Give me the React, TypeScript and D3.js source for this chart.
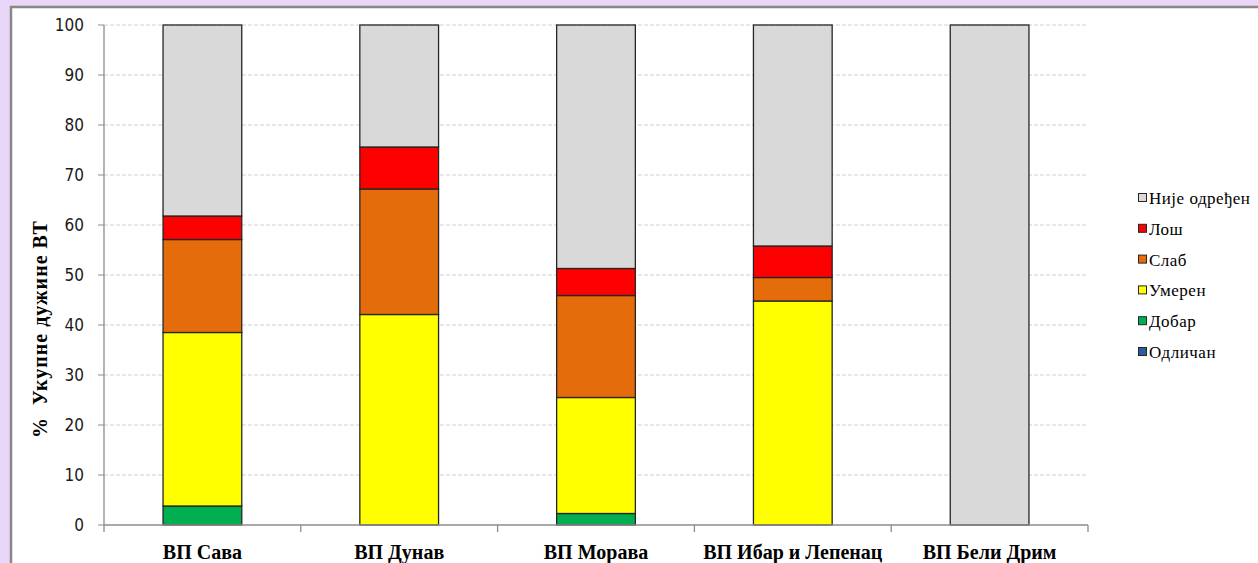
import React from "react";
import * as d3 from "d3";

const categories = ["ВП Сава", "ВП Дунав", "ВП Морава", "ВП Ибар и Лепенац", "ВП Бели Дрим"];
const seriesNames = ["Одличан", "Добар", "Умерен", "Слаб", "Лош", "Није одређен"];
const odlican = [0, 0, 0, 0, 0];
const dobar = [3.8, 0, 2.3, 0, 0];
const umeren = [34.7, 42.1, 23.2, 44.8, 0];
const slab = [18.6, 25.1, 20.4, 4.7, 0];
const los = [4.7, 8.4, 5.4, 6.3, 0];
const nije = [38.2, 24.4, 48.7, 44.2, 100];
const seriesColors = ["#2a5d9a", "#00b050", "#ffff00", "#e46c0a", "#ff0000", "#d9d9d9"];
const yTicks = [0, 10, 20, 30, 40, 50, 60, 70, 80, 90, 100];
const legendOrder = ["Није одређен", "Лош", "Слаб", "Умерен", "Добар", "Одличан"];

const W = 1258;
const H = 563;
const M = { left: 104, right: 1088, top: 25, bottom: 525 };

export default function App() {
  const values = [odlican, dobar, umeren, slab, los, nije];
  const rows = categories.map((c, i) => {
    const r: any = { cat: c };
    seriesNames.forEach((s, k) => (r[s] = values[k][i]));
    return r;
  });
  const stacked = d3.stack().keys(seriesNames)(rows);
  const x = d3.scaleBand().domain(categories).range([M.left, M.right]).paddingInner(0).paddingOuter(0);
  const y = d3.scaleLinear().domain([0, 100]).range([M.bottom, M.top]);
  const bw = x.bandwidth() * 0.4;
  const tickFont = "'DejaVu Sans Condensed', 'DejaVu Sans', sans-serif";
  const serif = "'Liberation Serif', 'Times New Roman', serif";
  const boundaries = categories.map((c) => x(c) as number).concat([M.right]);

  return (
    <svg width={W} height={H} style={{ position: "absolute", left: 0, top: 0 }}>
      <rect x={0} y={0} width={W} height={H} fill="#ead6f8" />
      <rect x={11} y={7} width={W + 20} height={H + 20} fill="#ffffff" stroke="#888888" strokeWidth={2.5} />
      {yTicks.map((t) => (
        <g key={t}>
          {t > 0 && (
            <line x1={M.left} x2={M.right} y1={y(t)} y2={y(t)} stroke="#d0d0d0" strokeWidth={1} strokeDasharray="4,2" />
          )}
          <line x1={M.left - 6} x2={M.left} y1={y(t)} y2={y(t)} stroke="#8c8c8c" strokeWidth={1} />
          <text x={M.left - 20} y={y(t)} dy="0.36em" textAnchor="end" fontFamily={tickFont} fontSize={17} fill="#1a1a1a">
            {t}
          </text>
        </g>
      ))}
      {stacked.map((s, k) => (
        <g key={s.key}>
          {s.map((d, i) => {
            const h = y(d[0]) - y(d[1]);
            if (h <= 0.01) return null;
            const cx = (x(categories[i]) as number) + x.bandwidth() / 2;
            return (
              <rect
                key={i}
                x={cx - bw / 2}
                y={y(d[1])}
                width={bw}
                height={h}
                fill={seriesColors[k]}
                stroke="#262626"
                strokeWidth={1.3}
              />
            );
          })}
        </g>
      ))}
      <line x1={M.left} x2={M.left} y1={M.top} y2={M.bottom} stroke="#8c8c8c" strokeWidth={1.3} />
      <line x1={M.left} x2={M.right} y1={M.bottom} y2={M.bottom} stroke="#8c8c8c" strokeWidth={1.3} />
      {boundaries.map((b, i) => (
        <line key={i} x1={b} x2={b} y1={M.bottom} y2={M.bottom + 7} stroke="#8c8c8c" strokeWidth={1.3} />
      ))}
      {categories.map((c) => (
        <text
          key={c}
          x={(x(c) as number) + x.bandwidth() / 2}
          y={559}
          textAnchor="middle"
          fontFamily={serif}
          fontWeight="bold"
          fontSize={20}
          fill="#000"
        >
          {c}
        </text>
      ))}
      <text
        transform={`translate(47,329) rotate(-90)`}
        textAnchor="middle"
        fontFamily={serif}
        fontWeight="bold"
        fontSize={20}
        letterSpacing={1}
        fill="#000"
        style={{ whiteSpace: "pre" }}
      >
        {"%  Укупне дужине ВТ"}
      </text>
      {legendOrder.map((name, i) => {
        const k = seriesNames.indexOf(name);
        const ly = 198 + i * 30.8;
        return (
          <g key={name}>
            <rect x={1138.5} y={ly - 4.5} width={8} height={8} fill={seriesColors[k]} stroke="#262626" strokeWidth={1} />
            <text x={1149} y={ly} dy="0.35em" fontFamily={serif} fontSize={17} letterSpacing={0.5} fill="#000">
              {name}
            </text>
          </g>
        );
      })}
    </svg>
  );
}
